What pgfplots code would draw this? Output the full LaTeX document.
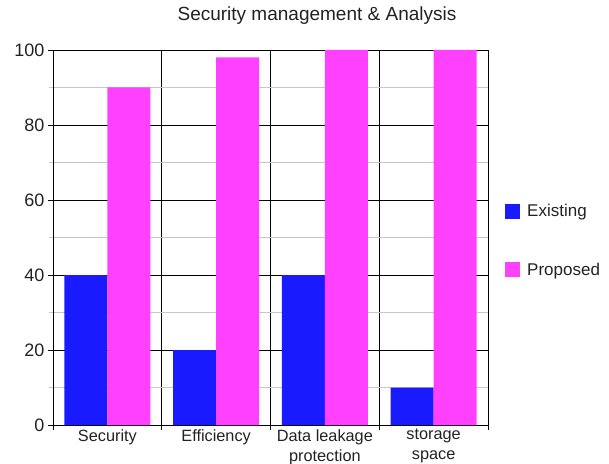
\documentclass[border=0pt]{standalone}
\usepackage{pgfplots}
\pgfplotsset{compat=1.18}
\usepackage{fontspec}
\setmainfont{Liberation Sans}
\definecolor{exblue}{HTML}{1A1AFF}
\definecolor{prmag}{HTML}{FF40FF}
\definecolor{txt}{HTML}{222222}
\definecolor{mgrid}{HTML}{C8C8C8}
\begin{document}
\begin{tikzpicture}[x=1pt,y=1pt]
\useasboundingbox (-53,-38) rectangle (556,425);
\begin{axis}[
  at={(0,0)}, anchor=south west,
  scale only axis, width=435pt, height=375pt,
  ymin=0, ymax=100,
  xmin=-0.5, xmax=3.5,
  ybar=0pt, bar width=0.395,
  ytick={0,20,40,60,80,100},
  minor ytick={10,30,50,70,90},
  ymajorgrids, yminorgrids, xmajorgrids,
  major grid style={black, line width=0.8pt},
  minor grid style={mgrid, line width=0.8pt},
  axis line style={black, line width=0.8pt},
  tick align=outside, tick pos=left,
  major tick length=5pt, minor tick length=4pt,
  major tick style={black, line width=0.8pt},
  minor tick style={mgrid, line width=0.8pt},
  xtick={-0.5,0.5,1.5,2.5,3.5},
  xticklabels={},
  extra x ticks={0,1,2,3},
  extra x tick labels={Security,Efficiency,{Data leakage\\protection},{storage\\space}},
  extra x tick style={major tick length=0pt, grid=none},
  xticklabel style={align=center, font=\fontsize{16.3}{20}\selectfont, text=txt, inner sep=1pt, yshift=-3pt},
  yticklabel style={font=\fontsize{18}{20}\selectfont, text=txt},
  /pgf/number format/assume math mode=true,
  legend style={draw=none, fill=none, at={(1,0.5)}, anchor=west, xshift=14pt, yshift=-3pt,
    font=\fontsize{17}{20}\selectfont, text=txt, row sep=41pt,
    legend cell align=left},
]
\addplot[fill=exblue, draw=none, legend image code/.code={\fill[exblue] (0pt,-7.5pt) rectangle (15pt,7.5pt); \path (20pt,0pt);}]
  coordinates {(0,40) (1,20) (2,40) (3,10)};
\addlegendentry{Existing}
\addplot[fill=prmag, draw=none, legend image code/.code={\fill[prmag] (0pt,-7.5pt) rectangle (15pt,7.5pt); \path (20pt,0pt);}]
  coordinates {(0,90) (1,98) (2,100) (3,100)};
\addlegendentry{Proposed}
\end{axis}
\node[font=\fontsize{19}{22}\selectfont, text=txt] at (264,409) {Security management \& Analysis};
\end{tikzpicture}
\end{document}
